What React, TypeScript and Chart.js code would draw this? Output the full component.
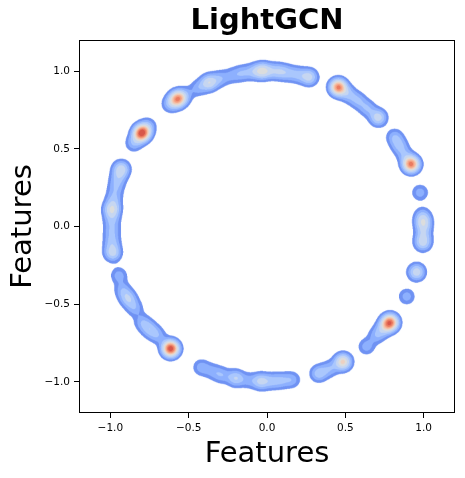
import React, { useEffect, useRef } from 'react';
import { Chart, registerables } from 'chart.js';

Chart.register(...registerables);

// KDE sample locations (data units), with relative weights
const sampleX = [
  // left arc
  -0.93, -0.95, -0.965, -0.978, -0.99, -0.99, -0.99, -0.99, -0.985,
  // lower-left chain
  -0.945, -0.92, -0.885, -0.845, -0.795, -0.75, -0.7, -0.615,
  // bottom
  -0.42, -0.35, -0.29, -0.2, -0.12, -0.04, 0.03, 0.09, 0.16,
  // lower right
  0.33, 0.4, 0.485,
  0.635, 0.7, 0.745, 0.785,
  0.892, 0.955,
  // right side
  0.993, 0.998, 0.998, 0.995,
  0.977,
  // upper right
  0.815, 0.845, 0.875, 0.92,
  0.455, 0.52, 0.58, 0.64, 0.71,
  // top
  -0.44, -0.37, -0.3, -0.225, -0.16, -0.09, -0.03, 0.03, 0.085, 0.14, 0.2, 0.27,
  // upper left
  -0.62, -0.57, -0.525,
  -0.85, -0.8, -0.76,
];
const sampleY = [
  0.37, 0.31, 0.25, 0.18, 0.11, 0.04, -0.03, -0.1, -0.17,
  -0.315, -0.41, -0.465, -0.525, -0.615, -0.66, -0.7, -0.785,
  -0.905, -0.93, -0.955, -0.975, -0.99, -0.995, -0.995, -0.99, -0.985,
  -0.945, -0.915, -0.87,
  -0.772, -0.7, -0.655, -0.617,
  -0.45, -0.293,
  0.07, 0.02, -0.045, -0.105,
  0.218,
  0.575, 0.52, 0.465, 0.4,
  0.895, 0.85, 0.81, 0.76, 0.7,
  0.89, 0.925, 0.95, 0.97, 0.985, 0.995, 1.0, 1.0, 0.995, 0.985, 0.975, 0.96,
  0.785, 0.82, 0.845,
  0.535, 0.6, 0.645,
];
const sampleW = [
  0.4, 0.2, 0.18, 0.2, 0.44, 0.2, 0.2, 0.22, 0.38,
  0.2, 0.2, 0.3, 0.2, 0.2, 0.25, 0.2, 0.95,
  0.2, 0.15, 0.2, 0.33, 0.15, 0.35, 0.2, 0.2, 0.2,
  0.3, 0.2, 0.58,
  0.2, 0.2, 0.22, 0.84,
  0.2, 0.42,
  0.22, 0.36, 0.2, 0.37,
  0.2,
  0.22, 0.22, 0.15, 0.82,
  0.8, 0.22, 0.22, 0.22, 0.4,
  0.18, 0.42, 0.2, 0.15, 0.2, 0.2, 0.44, 0.18, 0.25, 0.18, 0.2, 0.38,
  0.2, 0.72, 0.15,
  0.22, 0.92, 0.2,
];

const xTicks = [-1.0, -0.5, 0.0, 0.5, 1.0];
const yTicks = [-1.0, -0.5, 0.0, 0.5, 1.0];
const bandwidth = 0.037;
const levelEdges = [0.08, 0.155, 0.24, 0.34, 0.46, 0.55, 0.62, 0.7, 0.78, 0.87];
const levelColors = [
  '#6f92f3', '#8db0fe', '#aac7fd', '#c6d6f1', '#dcdddd',
  '#edd1c2', '#f6bda2', '#f5a081', '#ea7b60', '#d8574a',
];

const FONT = "'DejaVu Sans', sans-serif";

const fmt = (v: number) => v.toFixed(1).replace('-', '\u2212');

function hexToRgb(h: string) {
  const n = parseInt(h.slice(1), 16);
  return [(n >> 16) & 255, (n >> 8) & 255, n & 255];
}

const kdePlugin = {
  id: 'kdeFill',
  beforeDatasetsDraw(chart: any) {
    const { ctx, chartArea: ca, scales } = chart;
    const xs = scales.x;
    const ys = scales.y;
    const S = 3;
    const aw = ca.right - ca.left;
    const ah = ca.bottom - ca.top;
    const W = Math.round(aw * S);
    const H = Math.round(ah * S);
    const dens = new Float32Array(W * H);
    const hx = Math.abs(xs.getPixelForValue(bandwidth) - xs.getPixelForValue(0)) * S;
    const hy = Math.abs(ys.getPixelForValue(bandwidth) - ys.getPixelForValue(0)) * S;
    const pts = chart.data.datasets[0].data;
    for (const p of pts) {
      const cx = (xs.getPixelForValue(p.x) - ca.left) * S;
      const cy = (ys.getPixelForValue(p.y) - ca.top) * S;
      const w = p.w;
      const rx = 4 * hx;
      const ry = 4 * hy;
      const j0 = Math.max(0, Math.floor(cy - ry));
      const j1 = Math.min(H - 1, Math.ceil(cy + ry));
      const i0 = Math.max(0, Math.floor(cx - rx));
      const i1 = Math.min(W - 1, Math.ceil(cx + rx));
      for (let j = j0; j <= j1; j++) {
        const dy = (j + 0.5 - cy) / hy;
        const dy2 = dy * dy;
        const row = j * W;
        for (let i = i0; i <= i1; i++) {
          const dx = (i + 0.5 - cx) / hx;
          const d2 = dx * dx + dy2;
          if (d2 < 16) dens[row + i] += w * Math.exp(-0.5 * d2);
        }
      }
    }
    const off = document.createElement('canvas');
    off.width = W;
    off.height = H;
    const octx = off.getContext('2d')!;
    const img = octx.createImageData(W, H);
    const rgb = levelColors.map(hexToRgb);
    const data = img.data;
    for (let k = 0; k < W * H; k++) {
      const d = dens[k];
      if (d < levelEdges[0]) continue;
      let lv = 0;
      while (lv + 1 < levelEdges.length && d >= levelEdges[lv + 1]) lv++;
      const c = rgb[lv];
      data[k * 4] = c[0];
      data[k * 4 + 1] = c[1];
      data[k * 4 + 2] = c[2];
      data[k * 4 + 3] = 255;
    }
    octx.putImageData(img, 0, 0);
    ctx.save();
    ctx.imageSmoothingEnabled = true;
    (ctx as any).imageSmoothingQuality = 'high';
    ctx.drawImage(off, ca.left, ca.top, aw, ah);
    ctx.restore();
  },
};

const framePlugin = {
  id: 'frame',
  afterDatasetsDraw(chart: any) {
    const { ctx, chartArea: ca } = chart;
    ctx.save();
    ctx.strokeStyle = '#000';
    ctx.lineWidth = 1;
    const l = Math.round(ca.left) + 0.5;
    const t = Math.round(ca.top) + 0.5;
    const r = Math.round(ca.right) - 0.5;
    const b = Math.round(ca.bottom) - 0.5;
    ctx.strokeRect(l, t, r - l, b - t);
    ctx.restore();
  },
};

export default function App() {
  const ref = useRef<HTMLCanvasElement>(null);
  useEffect(() => {
    if (!ref.current) return;
    const points = sampleX.map((x, i) => ({ x, y: sampleY[i], w: sampleW[i] }));
    const tickFont = { family: FONT, size: 10.5 };
    const chart = new Chart(ref.current, {
      type: 'scatter',
      data: {
        datasets: [
          {
            data: points,
            pointRadius: 0,
            pointHoverRadius: 0,
            showLine: false,
          },
        ],
      },
      plugins: [kdePlugin, framePlugin],
      options: {
        responsive: false,
        animation: false,
        events: [],
        layout: { padding: { left: 0, right: 10, top: 0, bottom: 0 } },
        plugins: {
          legend: { display: false },
          tooltip: { enabled: false },
          title: {
            display: true,
            text: 'LightGCN',
            color: '#000',
            fullSize: false,
            font: { family: FONT, size: 29, weight: 'bold' },
            padding: { top: 4.4, bottom: 40 - 4.4 - 29 * 1.2 },
          },
        },
        scales: {
          x: {
            type: 'linear',
            min: -1.2,
            max: 1.2,
            afterBuildTicks: (s: any) => {
              s.ticks = xTicks.map((v) => ({ value: v }));
            },
            afterFit: (s: any) => {
              s.height = 65;
            },
            ticks: {
              color: '#000',
              font: tickFont,
              padding: 4,
              maxRotation: 0,
              autoSkip: false,
              callback: (v: any) => fmt(Number(v)),
            },
            grid: {
              display: true,
              drawOnChartArea: false,
              drawTicks: true,
              tickLength: 5,
              color: '#000',
              lineWidth: 1,
            },
            border: { display: false },
            title: {
              display: true,
              text: 'Features',
              color: '#000',
              font: { family: FONT, size: 29 },
              padding: { top: 0, bottom: 6 },
            },
          },
          y: {
            type: 'linear',
            min: -1.2,
            max: 1.2,
            afterBuildTicks: (s: any) => {
              s.ticks = yTicks.map((v) => ({ value: v }));
            },
            afterFit: (s: any) => {
              s.width = 79;
            },
            ticks: {
              color: '#000',
              font: tickFont,
              padding: 4,
              autoSkip: false,
              callback: (v: any) => fmt(Number(v)),
            },
            grid: {
              display: true,
              drawOnChartArea: false,
              drawTicks: true,
              tickLength: 5,
              color: '#000',
              lineWidth: 1,
            },
            border: { display: false },
            title: {
              display: true,
              text: 'Features',
              color: '#000',
              font: { family: FONT, size: 29 },
              padding: { top: 5.6, bottom: 0 },
            },
          },
        },
      },
    } as any);
    return () => chart.destroy();
  }, []);
  return (
    <div style={{ position: 'absolute', left: 0, top: 0, width: 465, height: 478, background: '#fff' }}>
      <canvas ref={ref} width={465} height={478} style={{ display: 'block' }} />
    </div>
  );
}
